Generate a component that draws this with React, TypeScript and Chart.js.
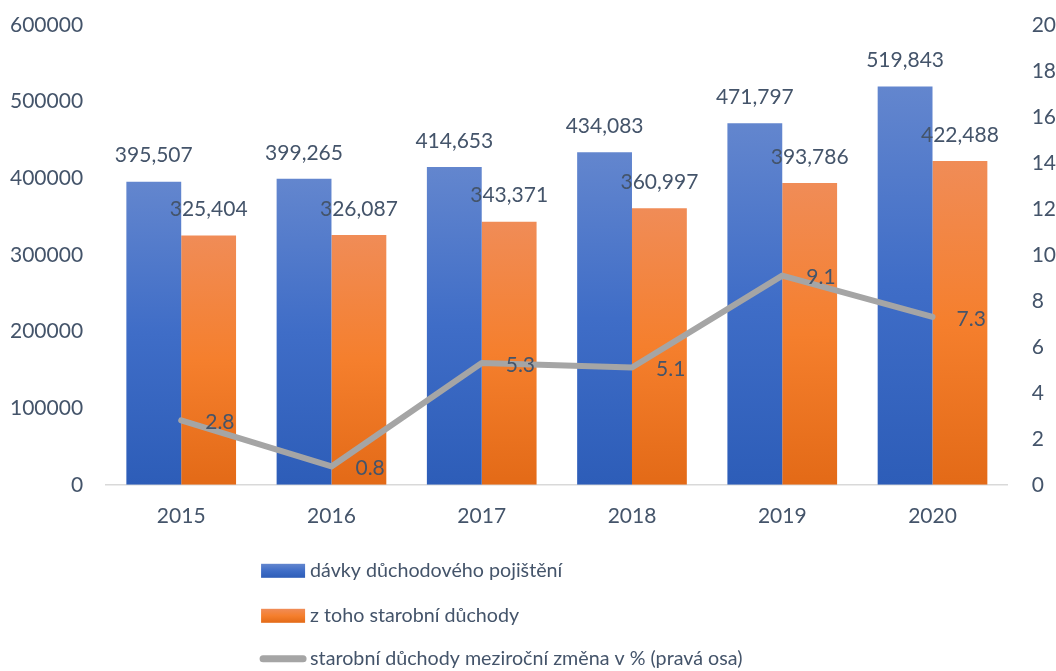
import React, { useEffect, useRef } from "react";
import { Chart, registerables } from "chart.js";

Chart.register(...registerables);

const years = ["2015", "2016", "2017", "2018", "2019", "2020"];
const benefits = [395507, 399265, 414653, 434083, 471797, 519843];
const oldAge = [325404, 326087, 343371, 360997, 393786, 422488];
const changePct = [2.8, 0.8, 5.3, 5.1, 9.1, 7.3];

const seriesNames = [
  "dávky důchodového pojištění",
  "z toho starobní důchody",
  "starobní důchody meziroční změna v % (pravá osa)",
];

const TEXT = "#44546A";
const FONT = "Lato, 'Open Sans', sans-serif";
const FS = 21;
const LEGEND_FS = 19.7;
const BLUE_STOPS: [number, string][] = [
  [0, "#6386CE"],
  [0.5, "#3F6DC7"],
  [1, "#2D5DB8"],
];
const ORANGE_STOPS: [number, string][] = [
  [0, "#F08C57"],
  [0.5, "#F57F2D"],
  [1, "#E36A17"],
];

function grad(ctx: CanvasRenderingContext2D, top: number, bottom: number, stops: [number, string][]) {
  const g = ctx.createLinearGradient(0, top, 0, bottom);
  stops.forEach(([o, c]) => g.addColorStop(o, c));
  return g;
}

function barFill(stops: [number, string][]) {
  return (c: any) => {
    const chart = c.chart;
    const area = chart.chartArea;
    const y = chart.scales?.y;
    if (!area || !y || c.raw == null) return stops[1][1];
    const top = y.getPixelForValue(c.raw);
    return grad(chart.ctx, top, area.bottom, stops);
  };
}

const labelsPlugin = {
  id: "valueLabels",
  afterDatasetsDraw(chart: any) {
    const ctx = chart.ctx;
    ctx.save();
    ctx.font = `${FS}px ${FONT}`;
    ctx.fillStyle = TEXT;
    ctx.textBaseline = "middle";
    chart.data.datasets.forEach((ds: any, di: number) => {
      const meta = chart.getDatasetMeta(di);
      meta.data.forEach((el: any, i: number) => {
        const v = ds.data[i];
        if (ds.type === "line") {
          ctx.textAlign = "left";
          ctx.fillText(v.toFixed(1), el.x + 24, el.y + 2);
        } else {
          ctx.textAlign = "center";
          ctx.fillText(v.toLocaleString("en-US"), el.x, el.y - 26);
        }
      });
    });
    ctx.restore();
  },
};

const legendPlugin = {
  id: "stackLegend",
  afterDraw(chart: any) {
    const ctx = chart.ctx;
    const area = chart.chartArea;
    const x0 = area.left + 155;
    const tx = area.left + 204;
    const rows = [area.bottom + 86, area.bottom + 131, area.bottom + 174];
    ctx.save();
    ctx.fillStyle = grad(ctx, rows[0] - 7, rows[0] + 7, BLUE_STOPS);
    ctx.fillRect(x0, rows[0] - 7, 44, 14);
    ctx.fillStyle = grad(ctx, rows[1] - 7, rows[1] + 7, ORANGE_STOPS);
    ctx.fillRect(x0, rows[1] - 7, 44, 14);
    ctx.strokeStyle = "#A5A5A5";
    ctx.lineWidth = 7;
    ctx.lineCap = "round";
    ctx.beginPath();
    ctx.moveTo(x0 + 2, rows[2]);
    ctx.lineTo(x0 + 42, rows[2]);
    ctx.stroke();
    ctx.font = `${LEGEND_FS}px ${FONT}`;
    ctx.fillStyle = TEXT;
    ctx.textAlign = "left";
    ctx.textBaseline = "middle";
    seriesNames.forEach((n, i) => ctx.fillText(n, tx, rows[i]));
    ctx.restore();
  },
};

export default function App() {
  const ref = useRef<HTMLCanvasElement>(null);
  useEffect(() => {
    if (!ref.current) return;
    const tickFont = { family: FONT, size: FS };
    const fitY = (pad: number) => (s: any) => {
      s.width -= pad;
      s.paddingTop = 0;
      s.paddingBottom = 0;
    };
    const chart = new Chart(ref.current, {
      type: "bar",
      data: {
        labels: years,
        datasets: [
          {
            type: "line",
            label: seriesNames[2],
            data: changePct,
            yAxisID: "y1",
            borderColor: "#A5A5A5",
            borderWidth: 6,
            pointRadius: 0,
            tension: 0,
            borderCapStyle: "round",
            borderJoinStyle: "round",
            order: 0,
          } as any,
          {
            type: "bar",
            label: seriesNames[0],
            data: benefits,
            yAxisID: "y",
            backgroundColor: barFill(BLUE_STOPS),
            categoryPercentage: 0.73,
            barPercentage: 1,
            order: 1,
          },
          {
            type: "bar",
            label: seriesNames[1],
            data: oldAge,
            yAxisID: "y",
            backgroundColor: barFill(ORANGE_STOPS),
            categoryPercentage: 0.73,
            barPercentage: 1,
            order: 1,
          },
        ],
      },
      options: {
        animation: false,
        responsive: false,
        maintainAspectRatio: false,
        layout: { padding: { top: 25, left: 10, right: 0, bottom: 142 } },
        plugins: {
          legend: { display: false },
          tooltip: { enabled: false },
        },
        scales: {
          x: {
            grid: { display: false, drawTicks: false },
            border: { display: true, color: "#D9D9D9", width: 1.5 },
            ticks: { color: TEXT, font: tickFont, padding: 19 },
            afterFit: (s: any) => {
              s.height -= 19;
              s.paddingLeft = 0;
              s.paddingRight = 0;
            },
          },
          y: {
            position: "left",
            min: 0,
            max: 600000,
            grid: { display: false, drawTicks: false },
            border: { display: false },
            ticks: {
              stepSize: 100000,
              color: TEXT,
              font: tickFont,
              padding: 23,
              callback: (v: any) => String(v),
            },
            afterFit: fitY(23),
          },
          y1: {
            position: "right",
            min: 0,
            max: 20,
            grid: { display: false, drawTicks: false },
            border: { display: false },
            ticks: {
              stepSize: 2,
              color: TEXT,
              font: tickFont,
              padding: 24,
            },
            afterFit: fitY(24),
          },
        },
      },
      plugins: [labelsPlugin, legendPlugin],
    });
    return () => chart.destroy();
  }, []);
  return (
    <div style={{ position: "fixed", left: 0, top: 0, width: 1056, height: 671, background: "#fff" }}>
      <canvas ref={ref} width={1056} height={671} style={{ width: 1056, height: 671 }} />
    </div>
  );
}
